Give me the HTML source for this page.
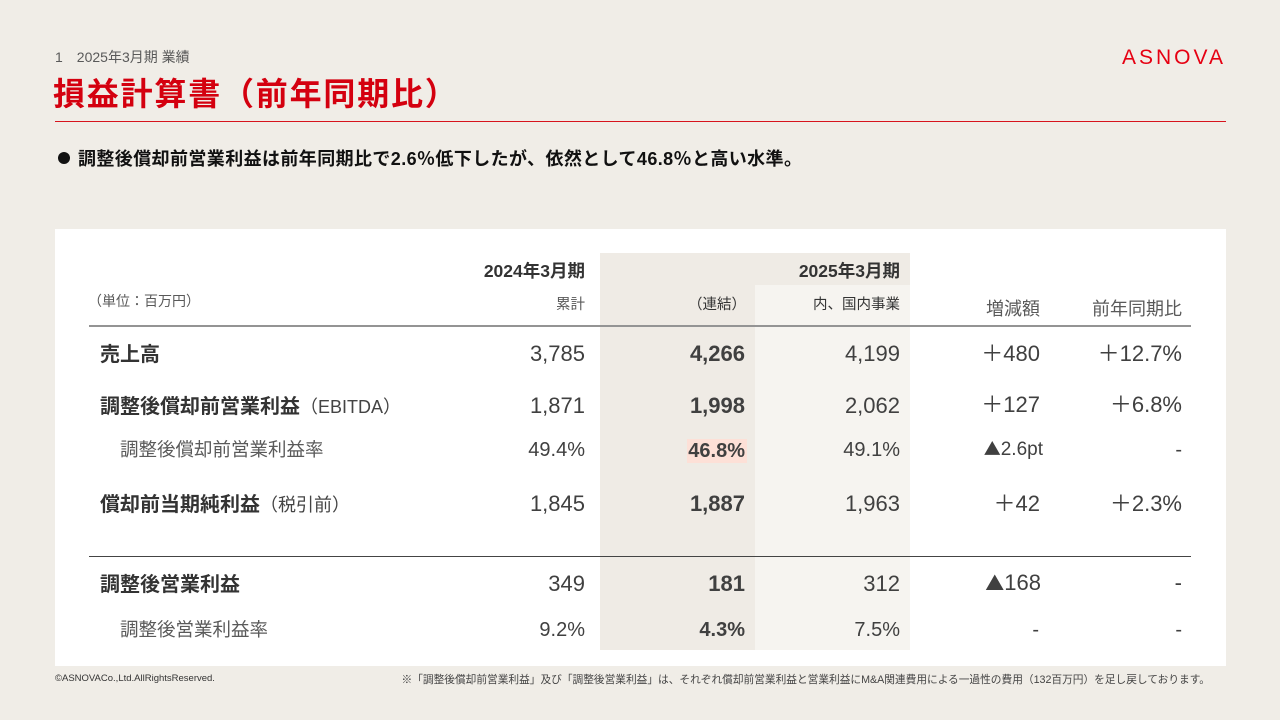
<!DOCTYPE html>
<html><head><meta charset="utf-8">
<style>
*{margin:0;padding:0;box-sizing:border-box}
body{width:1280px;height:720px;background:#f0ede7;position:relative;overflow:hidden;font-family:"Liberation Sans","Noto Sans CJK JP",sans-serif;color:#333}
.a{position:absolute;white-space:nowrap;line-height:1}
.r{text-align:right}
.b{font-weight:bold}
.v{font-size:22px;color:#404040}
.p{font-size:20px;color:#404040}
.lbl{font-size:20px;font-weight:bold;color:#333}
.sub{font-size:18.5px;color:#5a5a5a}
.tri{font-family:"Noto Sans CJK JP",sans-serif}
</style></head><body>
<div class="a" style="left:55px;top:50px;font-size:14px;color:#595959">1<span style="margin-left:14px">2025年3月期 業績</span></div>
<div class="a b" style="left:53px;top:78px;font-size:32px;color:#d4000f;letter-spacing:1.8px">損益計算書（前年同期比）</div>
<div class="a" style="left:1122px;top:47px;font-size:21px;color:#e60012;letter-spacing:3px">ASNOVA</div>
<div class="a" style="left:55px;top:121px;width:1171px;height:1px;background:#d7141d"></div>
<div class="a" style="left:58px;top:152px;width:12px;height:12px;border-radius:50%;background:#111"></div>
<div class="a b" style="left:78px;top:150px;font-size:18px;color:#111;letter-spacing:0.4px">調整後償却前営業利益は前年同期比で2.6％低下したが、依然として46.8％と高い水準。</div>

<div class="a" style="left:55px;top:229px;width:1171px;height:437px;background:#fff"></div>
<div class="a" style="left:600px;top:253px;width:155px;height:397px;background:#efebe5"></div>
<div class="a" style="left:755px;top:253px;width:155px;height:32px;background:#efebe5"></div>
<div class="a" style="left:755px;top:285px;width:155px;height:365px;background:#f6f4f0"></div>
<div class="a" style="left:89px;top:325px;width:1102px;height:2px;background:#949494"></div>
<div class="a" style="left:89px;top:556px;width:1102px;height:1px;background:#444"></div>

<!-- headers -->
<div class="a b r" style="right:695px;top:263px;font-size:17.5px;color:#333">2024年3月期</div>
<div class="a b r" style="right:380px;top:263px;font-size:17.5px;color:#333">2025年3月期</div>
<div class="a" style="left:88px;top:294px;font-size:14px;color:#595959">（単位：百万円）</div>
<div class="a r" style="right:695px;top:298px;font-size:14.5px;color:#595959">累計</div>
<div class="a r" style="right:534px;top:298px;font-size:14.5px;color:#333">（連結）</div>
<div class="a r" style="right:380px;top:298px;font-size:14.5px;color:#333">内、国内事業</div>
<div class="a r" style="right:240px;top:300px;font-size:18px;color:#595959">増減額</div>
<div class="a r" style="right:98px;top:300px;font-size:18px;color:#595959">前年同期比</div>

<!-- row1 -->
<div class="a lbl" style="left:100px;top:345px">売上高</div>
<div class="a v r" style="right:695px;top:343px">3,785</div>
<div class="a v b r" style="right:535px;top:343px">4,266</div>
<div class="a v r" style="right:380px;top:343px">4,199</div>
<div class="a v r" style="right:240px;top:343px">＋480</div>
<div class="a v r" style="right:98px;top:343px">＋12.7%</div>

<!-- row2 -->
<div class="a lbl" style="left:100px;top:397px">調整後償却前営業利益<span style="font-weight:normal;font-size:18px;color:#444">（EBITDA）</span></div>
<div class="a v r" style="right:695px;top:395px">1,871</div>
<div class="a v b r" style="right:535px;top:395px">1,998</div>
<div class="a v r" style="right:380px;top:395px">2,062</div>
<div class="a v r" style="right:240px;top:394px">＋127</div>
<div class="a v r" style="right:98px;top:394px">＋6.8%</div>

<!-- row3 -->
<div class="a sub" style="left:120px;top:441px">調整後償却前営業利益率</div>
<div class="a p r" style="right:695px;top:440px">49.4%</div>
<div class="a" style="left:687px;top:439px;width:60px;height:24px;background:#fde0d7"></div>
<div class="a p b r" style="right:535px;top:441px">46.8%</div>
<div class="a p r" style="right:380px;top:440px">49.1%</div>
<div class="a p r" style="right:237px;top:439px;font-size:19px"><span class="tri" style="font-size:17px">▲</span>2.6pt</div>
<div class="a p r" style="right:98px;top:440px">-</div>

<!-- row4 -->
<div class="a lbl" style="left:100px;top:495px">償却前当期純利益<span style="font-weight:normal;font-size:18px;color:#444">（税引前）</span></div>
<div class="a v r" style="right:695px;top:493px">1,845</div>
<div class="a v b r" style="right:535px;top:493px">1,887</div>
<div class="a v r" style="right:380px;top:493px">1,963</div>
<div class="a v r" style="right:240px;top:493px">＋42</div>
<div class="a v r" style="right:98px;top:493px">＋2.3%</div>

<!-- row5 -->
<div class="a lbl" style="left:100px;top:575px">調整後営業利益</div>
<div class="a v r" style="right:695px;top:573px">349</div>
<div class="a v b r" style="right:535px;top:573px">181</div>
<div class="a v r" style="right:380px;top:573px">312</div>
<div class="a v r" style="right:239px;top:572px"><span class="tri" style="font-size:19px">▲</span>168</div>
<div class="a v r" style="right:98px;top:572px">-</div>

<!-- row6 -->
<div class="a sub" style="left:120px;top:621px">調整後営業利益率</div>
<div class="a p r" style="right:695px;top:620px">9.2%</div>
<div class="a p b r" style="right:535px;top:620px">4.3%</div>
<div class="a p r" style="right:380px;top:620px">7.5%</div>
<div class="a p r" style="right:241px;top:620px">-</div>
<div class="a p r" style="right:98px;top:620px">-</div>

<div class="a" style="left:55px;top:674px;font-size:9.5px;color:#333">©ASNOVACo.,Ltd.AllRightsReserved.</div>
<div class="a r" style="right:70px;top:675px;font-size:10.7px;color:#444">※「調整後償却前営業利益」及び「調整後営業利益」は、それぞれ償却前営業利益と営業利益にM&amp;A関連費用による一過性の費用（132百万円）を足し戻しております。</div>
</body></html>
